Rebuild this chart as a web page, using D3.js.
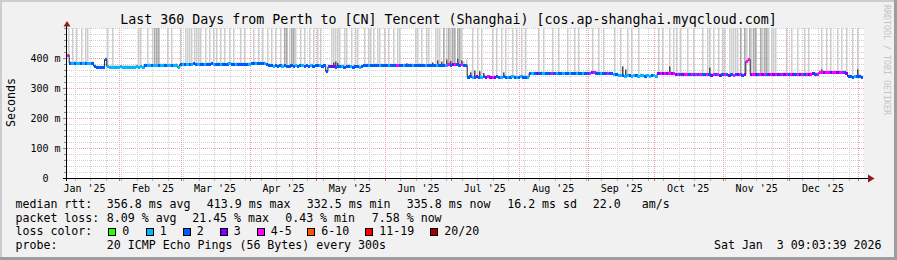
<!DOCTYPE html>
<html><head><meta charset="utf-8">
<script src="https://cdn.jsdelivr.net/npm/d3@7"></script>
<style>
html,body{margin:0;padding:0;background:#f1f1f1;}
svg{display:block;}
text{font-family:"DejaVu Sans Mono",monospace;white-space:pre;}
</style></head><body><svg id="c" width="897" height="260"></svg>
<script>
// ---------------- DATA ----------------
const startTime = Date.UTC(2025,0,8,9,3,39);
const endTime   = Date.UTC(2026,0,3,9,3,39);

// daily median rtt (ms), day 0 = Jan 8 2025
const medianMs = [
410,383,382,383,382,383,382,383,382,382,381,382,373,369,368,367,368,395,372,370,
370,370,369,370,371,370,370,369,370,370,370,371,370,371,370,375,375,376,375,375,
376,375,375,376,375,376,375,376,375,376,368,379,380,379,380,379,380,381,380,379,
380,379,380,379,380,381,380,379,380,379,380,379,380,381,380,379,380,379,380,379,
380,379,380,381,381,382,381,381,382,381,380,376,374,373,374,373,374,373,374,373,
373,374,373,374,373,374,374,373,374,373,374,373,374,375,374,373,374,355,371,371,
371,370,371,372,371,370,371,372,371,370,371,371,370,371,375,375,374,375,376,375,
375,374,375,376,375,374,375,376,375,376,375,374,375,376,375,376,375,374,375,376,
375,374,375,376,374,375,376,375,376,374,375,376,377,376,377,378,377,376,377,376,
376,336,337,335,336,337,336,335,337,336,337,336,335,336,337,335,336,337,336,335,
336,337,336,335,336,337,336,335,336,349,348,349,348,349,350,349,348,349,348,349,
348,349,348,349,348,349,350,349,348,349,350,349,348,349,348,349,350,351,351,350,
349,348,347,348,349,348,347,346,344,342,341,341,340,341,341,340,341,341,340,341,
341,340,341,340,341,341,340,348,349,349,348,349,349,348,349,346,345,345,346,345,
345,346,345,344,345,344,344,345,344,345,344,343,344,345,344,343,344,345,344,343,
344,343,344,345,344,343,344,388,395,345,344,345,344,345,346,345,344,345,346,345,
346,345,344,345,346,345,344,345,346,345,346,345,344,345,346,345,346,347,346,345,
352,352,353,352,351,352,353,352,352,353,352,351,350,338,337,336,337,338,340,336
];

// lost pings (of 20) per day
const lossPings = [
4,2,1,2,1,1,2,1,2,1,1,2,2,2,2,2,2,2,1,1,
1,1,1,1,1,1,1,1,1,1,1,1,1,1,1,2,1,1,2,1,
1,2,1,1,2,1,1,2,1,1,1,2,1,2,1,2,1,2,2,1,
2,2,1,2,2,2,1,2,2,1,2,2,2,1,2,2,1,2,2,2,
2,2,1,2,2,1,2,2,2,1,2,2,2,1,2,2,2,1,2,2,
2,2,2,1,2,2,1,2,2,2,1,2,2,2,1,2,2,2,2,3,
3,2,2,2,1,2,2,2,1,2,2,2,1,2,2,2,1,2,2,2,
2,1,2,2,2,1,2,2,2,4,2,2,1,2,2,2,1,2,2,2,
2,2,1,2,2,2,2,1,2,2,2,1,4,2,3,4,2,2,4,2,
2,2,2,1,2,3,2,1,2,3,4,3,4,3,2,2,1,2,2,1,
2,1,2,1,2,1,2,2,1,2,1,2,3,2,2,1,2,2,2,4,
2,1,2,2,1,2,2,1,2,2,1,2,2,1,2,2,4,2,4,2,
2,1,2,2,4,2,2,1,2,1,1,2,1,1,2,1,1,2,1,1,
1,2,1,1,2,1,1,3,4,3,4,3,4,3,4,3,4,2,3,4,
4,2,4,2,4,2,4,2,2,4,2,3,4,2,4,3,2,4,2,3,
2,4,2,3,4,2,3,4,4,3,4,3,2,4,3,4,2,3,4,3,
4,3,2,4,3,4,2,4,3,2,4,3,4,2,4,3,4,3,2,4,
4,4,3,4,4,3,4,4,3,4,4,2,3,2,2,2,1,2,2,2
];

// highest ping per day (ms); values above 500 run off the top of the chart
const smokeMaxMs = [
600,390,600,390,600,390,600,390,600,600,388,389,380,376,375,374,376,402,600,377,
600,377,376,377,378,377,377,376,377,377,377,378,600,600,377,382,600,383,600,384,
600,600,382,383,382,600,382,600,382,383,376,600,387,600,600,600,600,600,600,600,
600,386,600,386,600,388,600,600,387,600,387,600,387,600,387,600,387,386,600,386,
600,386,387,388,600,389,600,388,600,388,600,383,600,380,600,380,600,380,600,600,
600,600,600,600,380,600,381,600,381,600,381,600,381,600,600,380,381,362,378,600,
600,600,600,600,378,600,600,379,600,377,600,600,377,378,600,382,600,600,600,382,
600,600,382,600,382,600,382,600,382,600,600,381,382,383,382,383,382,600,600,383,
600,382,600,600,383,384,600,600,600,383,600,600,600,600,600,600,600,600,600,390,
395,345,356,600,358,600,350,600,345,344,343,342,600,343,600,342,600,343,600,342,
343,600,343,600,343,600,343,600,343,355,354,355,354,600,356,600,354,355,354,600,
354,355,600,355,354,355,600,355,354,600,356,600,354,355,354,355,356,600,358,357,
600,355,600,355,356,355,354,600,351,349,600,348,347,600,348,600,348,347,600,348,
348,347,348,347,348,348,347,600,356,600,355,356,600,355,600,600,352,600,353,352,
600,353,352,600,352,351,351,600,351,600,600,350,600,352,600,350,600,600,351,600,
600,600,600,600,600,351,600,600,600,600,600,600,352,600,600,600,600,600,600,600,
600,352,351,352,353,600,351,600,353,352,600,352,351,600,353,600,353,354,353,352,
360,600,358,600,358,600,359,358,600,359,600,358,600,345,344,600,344,600,347,343
];

// days where several pings ran off the top (darker smoke)
const smokeMidDays = [39,40,41,98,99,101,102,170,172,174,175,176,177,304,306,308,310,311,313,315,316];

// dense smoke just above the median: [day, ms]
const darkSmoke = [[120,385],[121,388],[122,383],[153,382],[165,385],[167,392],[169,388],[171,395],
  [173,390],[176,398],[178,392],[182,352],[184,358],[186,356],[188,350],[197,352],[251,372],
  [252,362],[272,372],[290,368],[341,362],[357,362]];

const yTicksMs = [0,100,200,300,400];
const yTickLabels = ["0","100 m","200 m","300 m","400 m"];
const monthLabels = ["Jan '25","Feb '25","Mar '25","Apr '25","May '25","Jun '25",
                     "Jul '25","Aug '25","Sep '25","Oct '25","Nov '25","Dec '25"];
const lossColors = ["#26ff00","#00b8ff","#0059ff","#7e00ff","#ff00ff","#ff5500","#ff0000","#a10000"];
const lossLabels = ["0","1","2","3","4-5","6-10","11-19","20/20"];
const titleText = "Last 360 Days from Perth to [CN] Tencent (Shanghai) [cos.ap-shanghai.myqcloud.com]";
const rttStats = ["356.8 ms avg","413.9 ms max","332.5 ms min","335.8 ms now","16.2 ms sd","22.0","am/s"];
const lossStats = ["8.09 % avg","21.45 % max","0.43 % min","7.58 % now"];
const probeText = "20 ICMP Echo Pings (56 Bytes) every 300s";
const dateText = "Sat Jan  3 09:03:39 2026";

// ---------------- DRAW ----------------
const W = 897, H = 260;
const PL = 67, PR = 863, PT = 28, PB = 178;
const DAY = 864e5;
const svg = d3.select("#c");
const x = d3.scaleUtc().domain([new Date(startTime), new Date(endTime)]).range([PL, PR]);
const y = d3.scaleLinear().domain([0, 500]).range([PB, PT]);
const dayX = i => x(new Date(startTime + i * DAY));
const bucket = l => l <= 3 ? l : l <= 5 ? 4 : l <= 10 ? 5 : l <= 19 ? 6 : 7;

svg.append("rect").attr("width", W).attr("height", H).attr("fill", "#f1f1f1");
svg.append("rect").attr("x", 0).attr("y", 0).attr("width", W).attr("height", 2).attr("fill", "#cdcdcd");
svg.append("rect").attr("x", 0).attr("y", 0).attr("width", 2).attr("height", H).attr("fill", "#cdcdcd");
svg.append("rect").attr("x", 0).attr("y", H - 3).attr("width", W).attr("height", 3).attr("fill", "#9d9d9d");
svg.append("rect").attr("x", W - 3).attr("y", 0).attr("width", 3).attr("height", H).attr("fill", "#9d9d9d");

svg.append("rect").attr("x", PL).attr("y", PT).attr("width", PR - PL + 1).attr("height", PB - PT).attr("fill", "#ffffff");

const grid = svg.append("g").attr("shape-rendering", "crispEdges");
const minorC = "#cfcfcf", majorC = "#f0a0a0";
// horizontal grid
for (let ms = 20; ms <= 500; ms += 20) {
  const major = yTicksMs.includes(ms);
  const yy = Math.round(y(ms)) + 0.5;
  grid.append("line").attr("x1", PL).attr("x2", PR + 2).attr("y1", yy).attr("y2", yy)
    .attr("stroke", major ? majorC : minorC).attr("stroke-dasharray", "1,1");
}
// vertical grid: weeks and months
const weeks = d3.utcSunday.range(new Date(startTime), new Date(endTime));
const months = d3.utcMonth.range(new Date(startTime), new Date(endTime));
weeks.forEach(d => {
  const xx = Math.round(x(d)) + 0.5;
  grid.append("line").attr("x1", xx).attr("x2", xx).attr("y1", PT).attr("y2", PB)
    .attr("stroke", minorC).attr("stroke-dasharray", "1,1");
  grid.append("line").attr("x1", xx).attr("x2", xx).attr("y1", PB).attr("y2", PB + 2.5).attr("stroke", "#b0b0b0");
});
months.forEach(d => {
  const xx = Math.round(x(d)) + 0.5;
  grid.append("line").attr("x1", xx).attr("x2", xx).attr("y1", PT).attr("y2", PB)
    .attr("stroke", majorC).attr("stroke-dasharray", "1,1");
  grid.append("line").attr("x1", xx).attr("x2", xx).attr("y1", PB).attr("y2", PB + 3).attr("stroke", "#e06060");
});
// y ticks
for (let ms = 20; ms <= 500; ms += 20) {
  const yy = Math.round(y(ms)) + 0.5;
  grid.append("line").attr("x1", yTicksMs.includes(ms) ? 63 : 64).attr("x2", PL).attr("y1", yy).attr("y2", yy)
    .attr("stroke", "#8a8a8a");
}

// smoke
const smoke = svg.append("g");
const SW = 1.5;
medianMs.forEach((m, i) => {
  const top = Math.min(smokeMaxMs[i], 500);
  if (top <= m) return;
  const xx = Math.floor(dayX(i)) + 1;
  smoke.append("rect").attr("x", xx).attr("width", SW)
    .attr("y", y(top)).attr("height", y(m) - y(top)).attr("fill", "#cdcdcd");
});
smokeMidDays.forEach(i => {
  const xx = Math.floor(dayX(i)) + 1;
  smoke.append("rect").attr("x", xx).attr("width", SW)
    .attr("y", y(500)).attr("height", y(medianMs[i]) - y(500)).attr("fill", "#aaaaaa");
});
darkSmoke.forEach(([i, v]) => {
  const xx = Math.floor(dayX(i)) + 1;
  smoke.append("rect").attr("x", xx).attr("width", SW)
    .attr("y", y(v)).attr("height", y(medianMs[i]) - y(v)).attr("fill", "#4a4a4a");
});

// median line (dark step) + loss-coloured band
const pts = medianMs.map((m, i) => [dayX(i), y(m)]);
pts.push([dayX(medianMs.length), y(medianMs[medianMs.length - 1])]);
svg.append("path").attr("d", d3.line().curve(d3.curveStepAfter)(pts))
  .attr("fill", "none").attr("stroke", "#202020").attr("stroke-width", 1);
const band = svg.append("g").attr("shape-rendering", "crispEdges");
medianMs.forEach((m, i) => {
  const x0 = dayX(i), x1 = dayX(i + 1);
  band.append("rect").attr("x", x0).attr("width", x1 - x0 + 0.2)
    .attr("y", y(m) - 1.5).attr("height", 3).attr("fill", lossColors[bucket(lossPings[i])]);
});

// axes
const ax = svg.append("g").attr("shape-rendering", "crispEdges");
ax.append("line").attr("x1", PL - 0.5).attr("x2", PL - 0.5).attr("y1", PB + 3).attr("y2", 24).attr("stroke", "#000");
ax.append("line").attr("x1", 63).attr("x2", 869).attr("y1", PB + 0.5).attr("y2", PB + 0.5).attr("stroke", "#000");
svg.append("path").attr("d", "M63.5,26.5L70.5,26.5L67,21Z").attr("fill", "#8f1c1c");
svg.append("path").attr("d", "M868,174.5L868,182.5L874.5,178.5Z").attr("fill", "#8f1c1c");

// y labels
yTicksMs.forEach((ms, k) => {
  const lab = yTickLabels[k];
  const endX = lab.includes(" ") ? 60.5 : 48.5;
  svg.append("text").attr("x", endX).attr("y", y(ms) + 3.6).attr("text-anchor", "end")
    .attr("font-size", "10px").attr("fill", "#000").text(lab);
});
// x labels (mid-month)
const labelMonths = d3.utcMonth.range(new Date(Date.UTC(2025,0,1)), new Date(Date.UTC(2026,0,1)));
labelMonths.forEach((m, k) => {
  const xx = x(new Date(+m + 15.3 * DAY));
  svg.append("text").attr("x", xx).attr("y", 191.5).attr("text-anchor", "middle")
    .attr("font-size", "10px").attr("fill", "#000").text(monthLabels[k]);
});

// title & side texts
svg.append("text").attr("x", 448.5).attr("y", 24).attr("text-anchor", "middle")
  .attr("font-size", "13.3px").attr("fill", "#000").text(titleText);
svg.append("text").attr("transform", "translate(15,102.5) rotate(-90)").attr("text-anchor", "middle")
  .attr("font-size", "11.6px").attr("fill", "#000").text("Seconds");
svg.append("text").attr("transform", "translate(884,60) rotate(90)").attr("text-anchor", "middle")
  .attr("font-size", "8.3px").attr("fill", "#c4c4c4").text("RRDTOOL / TOBI OETIKER");

// legend
const LF = "11.6px";
const leg = (tx, xx, yy, anchor) => svg.append("text").attr("x", xx).attr("y", yy)
  .attr("text-anchor", anchor || "start").attr("font-size", LF).attr("fill", "#000")
  .attr("xml:space", "preserve").text(tx);
const r1 = 207.8, r2 = 221.6, r3 = 235.4, r4 = 249.2;
leg("median rtt:", 15.5, r1);
[106.8, 206.8, 306.8, 406.8, 507.2, 592.8, 641.8].forEach((xx, k) => leg(rttStats[k], xx, r1));
leg("packet loss:", 15.5, r2);
[106.8, 192.2, 285.2, 371.8].forEach((xx, k) => leg(lossStats[k], xx, r2));
leg("loss color:", 15.5, r3);
const boxX = [108.3, 145.7, 182.7, 219.7, 256.7, 307.3, 365.3, 430.3];
lossLabels.forEach((lab, k) => {
  svg.append("rect").attr("x", boxX[k] + 0.5).attr("y", 228.5).attr("width", 7).attr("height", 7)
    .attr("fill", lossColors[k]).attr("stroke", "#000").attr("stroke-width", 1).attr("shape-rendering", "crispEdges");
  leg(lab, boxX[k] + 14, r3);
});
leg("probe:", 15.5, r4);
leg(probeText, 106.8, r4);
leg(dateText, 881.5, r4, "end");
</script></body></html>
